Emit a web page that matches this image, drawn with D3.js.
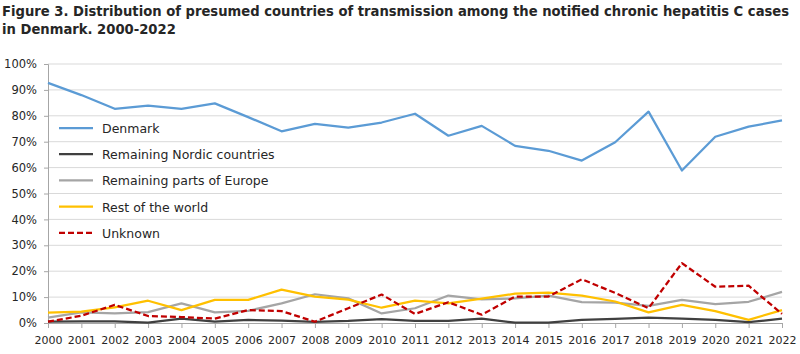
<!DOCTYPE html>
<html>
<head>
<meta charset="utf-8">
<script src="https://cdn.jsdelivr.net/npm/d3@7"></script>
<style>
  body { margin: 0; background: #fff; }
  .chart text { font-family: "DejaVu Sans", sans-serif; fill: #262626; }
</style>
</head>
<body>
<div class="chart"></div>
<script>
// Data (shares in %)
var years = ["2000", "2001", "2002", "2003", "2004", "2005", "2006", "2007", "2008", "2009", "2010", "2011",
  "2012", "2013", "2014", "2015", "2016", "2017", "2018", "2019", "2020", "2021", "2022"];
var denmark = [92.7, 88.0, 82.7, 83.9, 82.7, 84.8, 79.5, 74.0, 76.9, 75.4, 77.4, 80.8,
  72.3, 76.1, 68.4, 66.5, 62.7, 69.8, 81.6, 58.9, 71.9, 75.8, 78.2];
var nordic = [0.5, 0.6, 0.6, 0.1, 1.7, 0.5, 1.2, 0.9, 0.4, 0.8, 1.5, 0.8,
  0.8, 1.7, 0.1, 0.1, 1.2, 1.6, 2.1, 1.7, 1.2, 0.3, 1.7];
var europe = [2.1, 4.1, 3.7, 4.2, 7.6, 4.1, 4.7, 7.6, 11.1, 9.5, 3.7, 5.7,
  10.6, 9.1, 9.5, 10.6, 8.1, 7.9, 6.6, 8.9, 7.3, 8.2, 12.0];
var restOfWorld = [4.0, 4.4, 6.0, 8.6, 5.0, 8.9, 8.9, 12.9, 10.2, 9.0, 5.9, 8.6,
  7.6, 9.4, 11.3, 11.7, 10.6, 8.3, 4.1, 7.0, 4.6, 1.2, 5.0];
var unknown = [0.5, 2.8, 7.0, 2.7, 2.3, 1.7, 5.0, 4.6, 0.5, 5.7, 11.0, 3.5,
  8.0, 3.2, 10.2, 10.2, 16.9, 11.6, 5.7, 23.1, 14.0, 14.4, 3.5];
var yTicks = [0, 10, 20, 30, 40, 50, 60, 70, 80, 90, 100];
var titleLines = ["Figure 3. Distribution of presumed countries of transmission among the notified chronic hepatitis C cases",
  "in Denmark. 2000-2022"];

var series = [
  { name: "Denmark", values: denmark, color: "#5B9BD5", dash: null },
  { name: "Remaining Nordic countries", values: nordic, color: "#404040", dash: null },
  { name: "Remaining parts of Europe", values: europe, color: "#A5A5A5", dash: null },
  { name: "Rest of the world", values: restOfWorld, color: "#FFC000", dash: null },
  { name: "Unknown", values: unknown, color: "#C00000", dash: "6,3" }
];

// Set up the chart
var svgWidth = 800;
var svgHeight = 354;
var margin = { top: 64, right: 18, bottom: 31, left: 48 };
var width = svgWidth - margin.left - margin.right;
var height = svgHeight - margin.top - margin.bottom;

var svg = d3.select(".chart")
  .append("svg")
  .attr("width", svgWidth)
  .attr("height", svgHeight);

// Title: squeeze horizontally so line 1 spans the full width like the original
var titleGroup = svg.append("g");
var titleTexts = titleGroup.selectAll("text")
  .data(titleLines)
  .enter()
  .append("text")
  .attr("x", 0)
  .attr("y", function(d, i) { return 16 + i * 18; })
  .style("font-size", "14px")
  .style("font-weight", "bold")
  .text(function(d) { return d; });
var titleScale = 788 / titleTexts.node().getComputedTextLength();
titleGroup.attr("transform", "translate(2,0) scale(" + titleScale + ",1)");

var chart = svg.append("g")
  .attr("transform", "translate(" + margin.left + "," + margin.top + ")");

// Scales
var xScale = d3.scalePoint().domain(years).range([0, width]);
var yScale = d3.scaleLinear().domain([0, 100]).range([height, 0]);

// Gridlines
chart.append("g")
  .selectAll("line")
  .data(yTicks.filter(function(d) { return d > 0; }))
  .enter()
  .append("line")
  .attr("x1", 0)
  .attr("x2", width)
  .attr("y1", function(d) { return yScale(d); })
  .attr("y2", function(d) { return yScale(d); })
  .attr("stroke", "#D9D9D9")
  .attr("stroke-width", 1);

// Y axis
var leftAxis = d3.axisLeft(yScale)
  .tickValues(yTicks)
  .tickSize(4)
  .tickPadding(7)
  .tickFormat(function(d) { return d + "%"; });
var yAxis = chart.append("g").call(leftAxis);
yAxis.select(".domain").attr("stroke", "#A6A6A6");
yAxis.selectAll(".tick line").attr("stroke", "#A6A6A6");
yAxis.selectAll("text").style("font-size", "11.5px").attr("fill", "#404040");

// X axis
var bottomAxis = d3.axisBottom(xScale).tickSize(5).tickPadding(8);
var xAxis = chart.append("g")
  .attr("transform", "translate(0," + height + ")")
  .call(bottomAxis);
xAxis.select(".domain").attr("stroke", "#A6A6A6");
xAxis.selectAll(".tick line").attr("stroke", "#A6A6A6");
xAxis.selectAll("text").style("font-size", "11px").attr("fill", "#262626");

// Lines
var line = d3.line()
  .x(function(d, i) { return xScale(years[i]); })
  .y(function(d) { return yScale(d); });

chart.selectAll(".series")
  .data(series)
  .enter()
  .append("path")
  .attr("class", "series")
  .attr("d", function(s) { return line(s.values); })
  .attr("fill", "none")
  .attr("stroke", function(s) { return s.color; })
  .attr("stroke-width", 2.25)
  .attr("stroke-linejoin", "round")
  .attr("stroke-dasharray", function(s) { return s.dash; });

// Legend
var legend = svg.append("g")
  .selectAll("g")
  .data(series)
  .enter()
  .append("g")
  .attr("transform", function(d, i) { return "translate(59," + (128 + i * 26.2) + ")"; });

legend.append("line")
  .attr("x1", 0)
  .attr("x2", 34)
  .attr("stroke", function(s) { return s.color; })
  .attr("stroke-width", 2.25)
  .attr("stroke-dasharray", function(s) { return s.dash; });

legend.append("text")
  .attr("x", 43)
  .attr("y", 5)
  .style("font-size", "12.5px")
  .text(function(s) { return s.name; });
</script>
</body>
</html>
